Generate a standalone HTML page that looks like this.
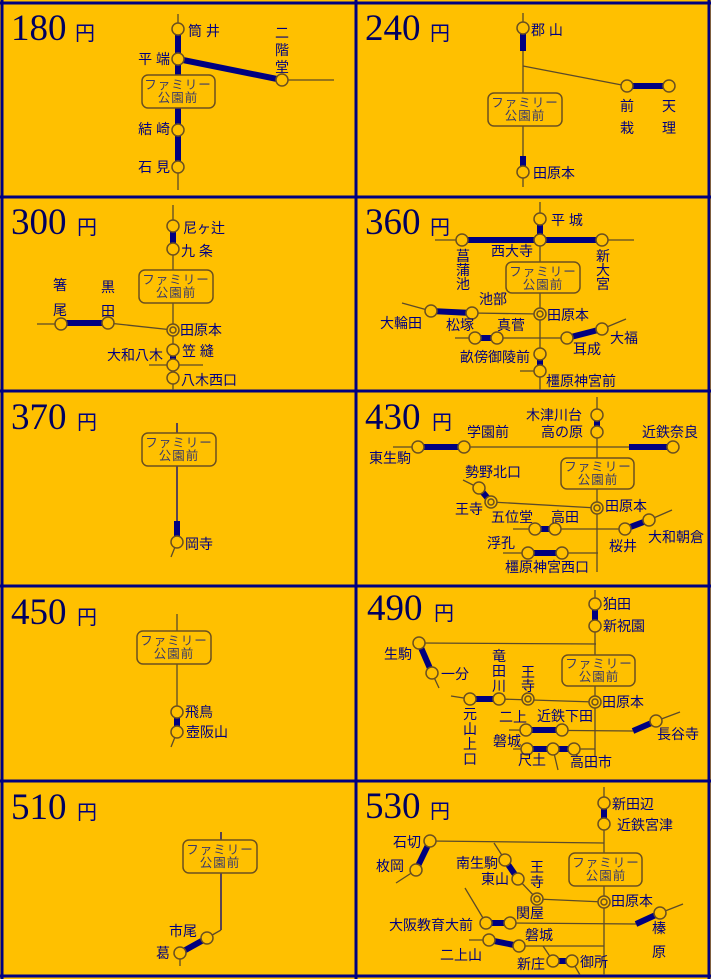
<!DOCTYPE html>
<html><head><meta charset="utf-8"><style>
html,body{margin:0;padding:0;background:#FFC000;}
svg{display:block}
text{font-family:"Liberation Sans","Noto Sans CJK JP",sans-serif;font-size:14px;fill:#000080;dominant-baseline:central}
.n{font-family:"Liberation Serif",serif;font-size:37px;dominant-baseline:alphabetic;fill:#000060}
.y{font-size:20px;dominant-baseline:alphabetic}
.bx{fill:#FFC000;stroke:#6b5020;stroke-width:1.5}
.bt{fill:#3a3a6a;font-size:12.5px;text-anchor:middle;letter-spacing:1px}
.t{stroke:#5b4a2a;stroke-width:1.3;fill:none}
.k{stroke:#000080;stroke-width:6;fill:none}
.s{fill:#FFC000;stroke:#6b5020;stroke-width:1.5}
.e{text-anchor:end}
.m{text-anchor:middle}
</style></head><body>
<svg width="711" height="979" viewBox="0 0 711 979" xmlns="http://www.w3.org/2000/svg">
<rect width="711" height="979" fill="#FFC000"/>
<g stroke="#000080" stroke-width="3">
<line x1="2" y1="0" x2="2" y2="979"/><line x1="356" y1="0" x2="356" y2="979"/><line x1="709" y1="0" x2="709" y2="979"/>
<line x1="0" y1="3" x2="711" y2="3"/><line x1="0" y1="197" x2="711" y2="197"/><line x1="0" y1="391" x2="711" y2="391"/><line x1="0" y1="586" x2="711" y2="586"/><line x1="0" y1="781" x2="711" y2="781"/><line x1="0" y1="976" x2="711" y2="976"/>
</g>
<!-- titles -->
<text class="n" x="11" y="40">180</text><text class="y" x="75" y="40">円</text>
<text class="n" x="365" y="40">240</text><text class="y" x="430" y="40">円</text>
<text class="n" x="11" y="234">300</text><text class="y" x="77" y="234">円</text>
<text class="n" x="365" y="234">360</text><text class="y" x="430" y="234">円</text>
<text class="n" x="11" y="429">370</text><text class="y" x="77" y="429">円</text>
<text class="n" x="365" y="429">430</text><text class="y" x="432" y="429">円</text>
<text class="n" x="11" y="624">450</text><text class="y" x="77" y="624">円</text>
<text class="n" x="367" y="620">490</text><text class="y" x="434" y="620">円</text>
<text class="n" x="11" y="819">510</text><text class="y" x="77" y="819">円</text>
<text class="n" x="365" y="818">530</text><text class="y" x="430" y="818">円</text>

<!-- 180 -->
<line class="t" x1="178" y1="14" x2="178" y2="190"/>
<line class="k" x1="178" y1="29" x2="178" y2="167"/>
<line class="k" x1="178" y1="59" x2="282" y2="80"/>
<line class="t" x1="282" y1="80" x2="334" y2="80"/>
<rect class="bx" x="142" y="75" width="73" height="33" rx="6"/>
<text class="bt" x="178" y="85">ファミリー</text><text class="bt" x="178" y="98">公園前</text>
<circle class="s" cx="178" cy="29" r="6"/><circle class="s" cx="178" cy="59" r="6"/><circle class="s" cx="178" cy="130" r="6"/><circle class="s" cx="178" cy="167" r="6"/><circle class="s" cx="282" cy="80" r="6"/>
<text x="188" y="31">筒 井</text><text class="e" x="170" y="59">平 端</text><text class="e" x="170" y="129">結 崎</text><text class="e" x="170" y="167">石 見</text>
<text class="m" x="282" y="33">二</text><text class="m" x="282" y="50">階</text><text class="m" x="282" y="67">堂</text>

<!-- 240 -->
<line class="t" x1="523" y1="13" x2="523" y2="187"/>
<line class="k" x1="523" y1="33" x2="523" y2="51"/>
<line class="k" x1="523" y1="156" x2="523" y2="168"/>
<line class="t" x1="523" y1="66" x2="627" y2="86"/>
<line class="k" x1="627" y1="86" x2="669" y2="86"/>
<rect class="bx" x="488" y="93" width="74" height="33" rx="6"/>
<text class="bt" x="525" y="103">ファミリー</text><text class="bt" x="525" y="116">公園前</text>
<circle class="s" cx="523" cy="28" r="6"/><circle class="s" cx="523" cy="172" r="6"/><circle class="s" cx="627" cy="86" r="6"/><circle class="s" cx="669" cy="86" r="6"/>
<text x="531" y="30">郡 山</text><text x="533" y="173">田原本</text>
<text class="m" x="627" y="106">前</text><text class="m" x="627" y="128">栽</text><text class="m" x="669" y="106">天</text><text class="m" x="669" y="128">理</text>

<!-- 300 -->
<line class="t" x1="173" y1="205" x2="173" y2="390"/>
<line class="k" x1="173" y1="226" x2="173" y2="249"/>
<line class="k" x1="173" y1="350" x2="173" y2="365"/>
<line class="t" x1="37" y1="324" x2="61" y2="324"/>
<line class="k" x1="61" y1="323" x2="108" y2="323"/>
<line class="t" x1="108" y1="323" x2="173" y2="330"/>
<line class="t" x1="149" y1="365" x2="203" y2="365"/>
<rect class="bx" x="139" y="270" width="74" height="33" rx="6"/>
<text class="bt" x="176" y="280">ファミリー</text><text class="bt" x="176" y="293">公園前</text>
<circle class="s" cx="173" cy="226" r="6"/><circle class="s" cx="173" cy="249" r="6"/><circle class="s" cx="173" cy="330" r="6"/><circle class="s" cx="173" cy="330" r="3"/><circle class="s" cx="173" cy="350" r="6"/><circle class="s" cx="173" cy="365" r="6"/><circle class="s" cx="173" cy="378" r="6"/>
<circle class="s" cx="61" cy="324" r="6"/><circle class="s" cx="108" cy="323" r="6"/>
<text x="183" y="228">尼ヶ辻</text><text x="181" y="251">九 条</text><text x="180" y="330">田原本</text><text x="182" y="351">笠 縫</text><text class="e" x="163" y="355">大和八木</text><text x="181" y="380">八木西口</text>
<text class="m" x="60" y="285">箸</text><text class="m" x="60" y="310">尾</text><text class="m" x="108" y="287">黒</text><text class="m" x="108" y="311">田</text>

<!-- 360 -->
<line class="t" x1="540" y1="202" x2="540" y2="390"/>
<line class="k" x1="540" y1="219" x2="540" y2="240"/>
<line class="k" x1="540" y1="354" x2="540" y2="371"/>
<line class="t" x1="435" y1="240" x2="634" y2="240"/>
<line class="k" x1="462" y1="240" x2="602" y2="240"/>
<line class="t" x1="402" y1="303" x2="431" y2="311"/>
<line class="k" x1="431" y1="311" x2="472" y2="313"/>
<line class="t" x1="472" y1="313" x2="540" y2="314"/>
<line class="t" x1="455" y1="338" x2="567" y2="338"/>
<line class="k" x1="475" y1="338" x2="497" y2="338"/>
<line class="k" x1="567" y1="338" x2="602" y2="329"/>
<line class="t" x1="602" y1="329" x2="626" y2="319"/>
<line class="t" x1="520" y1="371" x2="540" y2="371"/>
<rect class="bx" x="506" y="262" width="74" height="31" rx="6"/>
<text class="bt" x="543" y="272">ファミリー</text><text class="bt" x="543" y="285">公園前</text>
<circle class="s" cx="540" cy="219" r="6"/><circle class="s" cx="540" cy="240" r="6"/><circle class="s" cx="540" cy="314" r="6"/><circle class="s" cx="540" cy="314" r="3"/><circle class="s" cx="540" cy="354" r="6"/><circle class="s" cx="540" cy="371" r="6"/>
<circle class="s" cx="462" cy="240" r="6"/><circle class="s" cx="602" cy="240" r="6"/><circle class="s" cx="431" cy="311" r="6"/><circle class="s" cx="472" cy="313" r="6"/><circle class="s" cx="475" cy="338" r="6"/><circle class="s" cx="497" cy="338" r="6"/><circle class="s" cx="567" cy="338" r="6"/><circle class="s" cx="602" cy="329" r="6"/>
<text x="551" y="220">平 城</text><text x="491" y="251">西大寺</text>
<text class="m" x="463" y="256">菖</text><text class="m" x="463" y="270">蒲</text><text class="m" x="463" y="284">池</text>
<text class="m" x="603" y="256">新</text><text class="m" x="603" y="270">大</text><text class="m" x="603" y="284">宮</text>
<text x="479" y="299">池部</text><text x="380" y="323">大輪田</text><text x="446" y="325">松塚</text><text x="497" y="325">真菅</text><text x="547" y="315">田原本</text><text x="460" y="357">畝傍御陵前</text><text x="546" y="381">橿原神宮前</text><text x="610" y="338">大福</text><text x="573" y="349">耳成</text>

<!-- 370 -->
<line class="t" x1="177" y1="423" x2="177" y2="542" style="stroke:#000080"/>
<line class="k" x1="177" y1="521" x2="177" y2="537"/>
<line class="t" x1="177" y1="542" x2="171" y2="557"/>
<rect class="bx" x="142" y="433" width="74" height="33" rx="6"/>
<text class="bt" x="179" y="443">ファミリー</text><text class="bt" x="179" y="456">公園前</text>
<circle class="s" cx="177" cy="542" r="6"/>
<text x="185" y="544">岡寺</text>

<!-- 430 -->
<line class="t" x1="597" y1="397" x2="597" y2="572"/>
<line class="k" x1="597" y1="415" x2="597" y2="432"/>
<line class="t" x1="393" y1="447" x2="672" y2="447"/>
<line class="k" x1="418" y1="447" x2="464" y2="447"/>
<line class="k" x1="629" y1="447" x2="673" y2="447"/>
<line class="t" x1="463" y1="480" x2="479" y2="488"/>
<line class="k" x1="479" y1="488" x2="491" y2="502"/>
<line class="t" x1="491" y1="502" x2="597" y2="508"/>
<line class="t" x1="513" y1="529" x2="625" y2="529"/>
<line class="k" x1="535" y1="529" x2="555" y2="529"/>
<line class="k" x1="625" y1="529" x2="649" y2="520"/>
<line class="t" x1="649" y1="520" x2="672" y2="510"/>
<line class="t" x1="503" y1="553" x2="598" y2="553"/>
<line class="k" x1="528" y1="553" x2="562" y2="553"/>
<rect class="bx" x="561" y="458" width="73" height="31" rx="6"/>
<text class="bt" x="598" y="467">ファミリー</text><text class="bt" x="598" y="480">公園前</text>
<circle class="s" cx="597" cy="415" r="6"/><circle class="s" cx="597" cy="432" r="6"/><circle class="s" cx="597" cy="508" r="6"/><circle class="s" cx="597" cy="508" r="3"/>
<circle class="s" cx="418" cy="447" r="6"/><circle class="s" cx="464" cy="447" r="6"/><circle class="s" cx="673" cy="447" r="6"/><circle class="s" cx="479" cy="488" r="6"/><circle class="s" cx="491" cy="502" r="6"/><circle class="s" cx="491" cy="502" r="3"/>
<circle class="s" cx="535" cy="529" r="6"/><circle class="s" cx="555" cy="529" r="6"/><circle class="s" cx="625" cy="529" r="6"/><circle class="s" cx="649" cy="520" r="6"/><circle class="s" cx="528" cy="553" r="6"/><circle class="s" cx="562" cy="553" r="6"/>
<text x="526" y="415">木津川台</text><text x="541" y="432">高の原</text><text x="467" y="432">学園前</text><text x="642" y="432">近鉄奈良</text><text x="369" y="458">東生駒</text><text x="465" y="472">勢野北口</text><text x="455" y="509">王寺</text><text x="491" y="517">五位堂</text><text x="551" y="517">高田</text><text x="605" y="506">田原本</text><text x="487" y="543">浮孔</text><text x="609" y="546">桜井</text><text x="648" y="537">大和朝倉</text><text x="505" y="567">橿原神宮西口</text>

<!-- 450 -->
<line class="t" x1="177" y1="614" x2="177" y2="712"/>
<line class="k" x1="177" y1="712" x2="177" y2="732"/>
<line class="t" x1="177" y1="732" x2="171" y2="747"/>
<rect class="bx" x="137" y="631" width="74" height="33" rx="6"/>
<text class="bt" x="174" y="641">ファミリー</text><text class="bt" x="174" y="654">公園前</text>
<circle class="s" cx="177" cy="712" r="6"/><circle class="s" cx="177" cy="732" r="6"/>
<text x="185" y="712">飛鳥</text><text x="186" y="732">壺阪山</text>

<!-- 490 -->
<line class="t" x1="595" y1="590" x2="595" y2="756"/>
<line class="k" x1="595" y1="604" x2="595" y2="626"/>
<line class="t" x1="419" y1="643" x2="596" y2="644"/>
<line class="k" x1="419" y1="643" x2="432" y2="673"/>
<line class="t" x1="432" y1="673" x2="439" y2="688"/>
<line class="t" x1="451" y1="696" x2="470" y2="699"/>
<line class="k" x1="470" y1="699" x2="499" y2="699"/>
<line class="t" x1="499" y1="699" x2="595" y2="702"/>
<line class="t" x1="509" y1="730" x2="633" y2="731"/>
<line class="k" x1="526" y1="730" x2="562" y2="730"/>
<line class="k" x1="633" y1="731" x2="656" y2="721"/>
<line class="t" x1="656" y1="721" x2="680" y2="712"/>
<line class="t" x1="513" y1="749" x2="595" y2="749"/>
<line class="k" x1="527" y1="749" x2="574" y2="749"/>
<line class="t" x1="553" y1="749" x2="558" y2="770"/>
<rect class="bx" x="562" y="655" width="73" height="31" rx="6"/>
<text class="bt" x="599" y="664">ファミリー</text><text class="bt" x="599" y="677">公園前</text>
<circle class="s" cx="595" cy="604" r="6"/><circle class="s" cx="595" cy="626" r="6"/><circle class="s" cx="595" cy="702" r="6"/><circle class="s" cx="595" cy="702" r="3"/>
<circle class="s" cx="419" cy="643" r="6"/><circle class="s" cx="432" cy="673" r="6"/><circle class="s" cx="470" cy="699" r="6"/><circle class="s" cx="499" cy="699" r="6"/><circle class="s" cx="528" cy="699" r="6"/><circle class="s" cx="528" cy="699" r="3"/>
<circle class="s" cx="526" cy="730" r="6"/><circle class="s" cx="562" cy="730" r="6"/><circle class="s" cx="656" cy="721" r="6"/><circle class="s" cx="527" cy="749" r="6"/><circle class="s" cx="553" cy="749" r="6"/><circle class="s" cx="574" cy="749" r="6"/>
<text x="603" y="604">狛田</text><text x="603" y="626">新祝園</text><text x="384" y="654">生駒</text><text x="441" y="674">一分</text>
<text class="m" x="499" y="656">竜</text><text class="m" x="499" y="671">田</text><text class="m" x="499" y="686">川</text>
<text class="m" x="528" y="672">王</text><text class="m" x="528" y="686">寺</text>
<text class="m" x="470" y="714">元</text><text class="m" x="470" y="729">山</text><text class="m" x="470" y="744">上</text><text class="m" x="470" y="759">口</text>
<text x="499" y="717">二上</text><text x="537" y="716">近鉄下田</text><text x="602" y="702">田原本</text><text x="657" y="734">長谷寺</text><text x="493" y="741">磐城</text><text x="518" y="760">尺土</text><text x="570" y="762">高田市</text>

<!-- 510 -->
<line class="t" x1="221" y1="832" x2="221" y2="930" style="stroke:#000080"/>
<line class="t" x1="221" y1="930" x2="207" y2="938"/>
<line class="k" x1="207" y1="938" x2="180" y2="953"/>
<line class="t" x1="180" y1="953" x2="180" y2="966"/>
<rect class="bx" x="183" y="840" width="74" height="33" rx="6"/>
<text class="bt" x="220" y="850">ファミリー</text><text class="bt" x="220" y="863">公園前</text>
<circle class="s" cx="207" cy="938" r="6"/><circle class="s" cx="180" cy="953" r="6"/>
<text x="169" y="931">市尾</text><text x="156" y="953">葛</text>

<!-- 530 -->
<line class="t" x1="604" y1="787" x2="604" y2="975"/>
<line class="k" x1="604" y1="803" x2="604" y2="824"/>
<line class="t" x1="430" y1="841" x2="604" y2="843"/>
<line class="k" x1="430" y1="841" x2="416" y2="870"/>
<line class="t" x1="416" y1="870" x2="396" y2="883"/>
<line class="t" x1="494" y1="843" x2="505" y2="860"/>
<line class="k" x1="505" y1="860" x2="518" y2="879"/>
<line class="t" x1="518" y1="879" x2="537" y2="899"/>
<line class="t" x1="537" y1="899" x2="604" y2="902"/>
<line class="t" x1="465" y1="888" x2="486" y2="923"/>
<line class="k" x1="486" y1="923" x2="510" y2="923"/>
<line class="t" x1="510" y1="923" x2="636" y2="924"/>
<line class="k" x1="636" y1="924" x2="660" y2="913"/>
<line class="t" x1="660" y1="913" x2="683" y2="904"/>
<line class="t" x1="469" y1="940" x2="489" y2="940"/>
<line class="k" x1="489" y1="940" x2="519" y2="946"/>
<line class="t" x1="519" y1="946" x2="604" y2="946"/>
<line class="t" x1="543" y1="946" x2="553" y2="961"/>
<line class="k" x1="553" y1="961" x2="572" y2="961"/>
<line class="t" x1="572" y1="961" x2="580" y2="975"/>
<rect class="bx" x="569" y="853" width="73" height="33" rx="6"/>
<text class="bt" x="606" y="863">ファミリー</text><text class="bt" x="606" y="876">公園前</text>
<circle class="s" cx="604" cy="803" r="6"/><circle class="s" cx="604" cy="824" r="6"/><circle class="s" cx="604" cy="902" r="6"/><circle class="s" cx="604" cy="902" r="3"/>
<circle class="s" cx="430" cy="841" r="6"/><circle class="s" cx="416" cy="870" r="6"/><circle class="s" cx="505" cy="860" r="6"/><circle class="s" cx="518" cy="879" r="6"/><circle class="s" cx="537" cy="899" r="6"/><circle class="s" cx="537" cy="899" r="3"/>
<circle class="s" cx="486" cy="923" r="6"/><circle class="s" cx="510" cy="923" r="6"/><circle class="s" cx="660" cy="913" r="6"/><circle class="s" cx="489" cy="940" r="6"/><circle class="s" cx="519" cy="946" r="6"/><circle class="s" cx="553" cy="961" r="6"/><circle class="s" cx="572" cy="961" r="6"/>
<text x="612" y="804">新田辺</text><text x="617" y="825">近鉄宮津</text><text x="393" y="842">石切</text><text x="376" y="866">枚岡</text><text x="456" y="863">南生駒</text><text x="481" y="879">東山</text>
<text class="m" x="537" y="867">王</text><text class="m" x="537" y="882">寺</text>
<text x="611" y="901">田原本</text><text x="516" y="913">関屋</text><text x="389" y="925">大阪教育大前</text>
<text class="m" x="659" y="928">榛</text><text class="m" x="659" y="952">原</text>
<text x="525" y="935">磐城</text><text x="440" y="955">二上山</text><text x="517" y="964">新庄</text><text x="580" y="962">御所</text>
</svg>
</body></html>
